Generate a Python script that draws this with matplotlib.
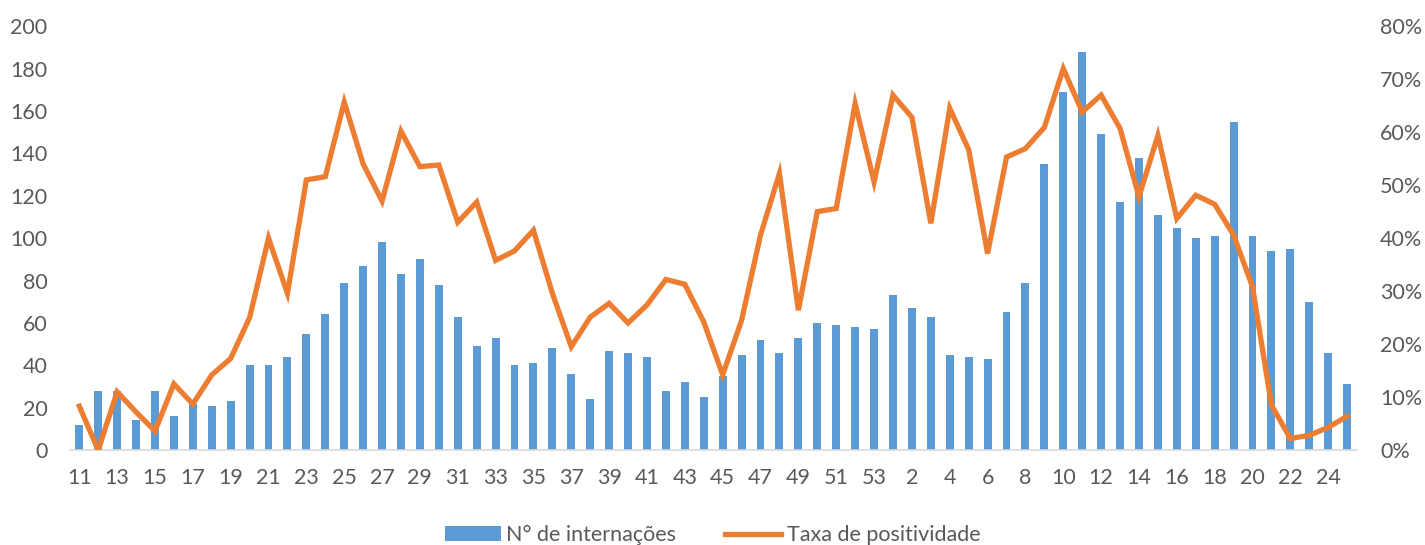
import numpy as np
import matplotlib
matplotlib.use("Agg")
import matplotlib.pyplot as plt
from matplotlib.ticker import FuncFormatter

# Epidemiological weeks (2020: 11-53, 2021: 1-25)
weeks = list(range(11, 54)) + list(range(1, 26))

# N° de internações
internacoes = [12, 28, 28, 14, 28, 16, 22, 21, 23, 40, 40, 44, 55, 64, 79, 87, 98, 83, 90, 78,
               63, 49, 53, 40, 41, 48, 36, 24, 47, 46, 44, 28, 32, 25, 35, 45, 52, 46, 53, 60,
               59, 58, 57, 73, 67, 63, 45, 44, 43, 65, 79, 135, 169, 188, 149, 117, 138, 111, 105, 100,
               101, 155, 101, 94, 95, 70, 46, 31]

# Taxa de positividade (%)
positividade = [8.3, 0.0, 11.0, 7.2, 3.6, 12.5, 8.7, 14.2, 17.3, 25.0, 40.0, 29.6, 51.0, 51.6, 65.7, 54.0,
                47.0, 60.2, 53.5, 53.8, 43.0, 46.8, 35.8, 37.6, 41.5, 29.6, 19.5, 25.1, 27.7, 24.0,
                27.4, 32.2, 31.3, 24.2, 14.2, 24.5, 40.6, 52.2, 26.4, 45.0, 45.6, 65.4, 50.6, 67.0,
                62.8, 42.8, 64.5, 56.7, 37.1, 55.3, 56.9, 60.9, 72.0, 63.8, 67.0, 60.7, 47.8, 59.4,
                43.7, 48.1, 46.4, 40.6, 30.8, 8.5, 2.2, 2.8, 4.3, 6.4]

BLUE = "#5B9BD5"
ORANGE = "#ED7D31"
TEXT = "#595959"

plt.rcParams['font.family'] = ['Lato', 'DejaVu Sans']

fig = plt.figure(figsize=(14.25, 5.45), dpi=100)
ax = fig.add_axes([0.049, 0.174, 0.903, 0.778])
ax2 = ax.twinx()

x = np.arange(len(weeks))
bars = ax.bar(x, internacoes, width=0.42, color=BLUE, label="N° de internações", zorder=2)
line, = ax2.plot(x, positividade, color=ORANGE, lw=3.8, solid_joinstyle='miter',
                 label="Taxa de positividade", zorder=3)

ax.set_xlim(-0.5, len(weeks) - 0.5)
ax.set_ylim(0, 200)
ax.set_yticks(range(0, 201, 20))
ax2.set_ylim(0, 80)
ax2.set_yticks(range(0, 81, 10))
ax2.yaxis.set_major_formatter(FuncFormatter(lambda v, p: f"{int(v)}%"))

ax.set_xticks(x[::2])
ax.set_xticklabels([str(w) for w in weeks[::2]])

for a in (ax, ax2):
    for s in a.spines.values():
        s.set_visible(False)
    a.tick_params(length=0, labelsize=15.5, colors=TEXT)
ax.spines['bottom'].set_visible(True)
ax.spines['bottom'].set_color("#D9D9D9")
ax.spines['bottom'].set_linewidth(1.2)
ax.tick_params(axis='y', pad=16)
ax.tick_params(axis='x', pad=13)
ax2.tick_params(axis='y', pad=17)

# bars behind line
ax.set_zorder(ax2.get_zorder() - 1)
ax2.patch.set_visible(False)

fig.legend(handles=[bars, line], labels=["N° de internações", "Taxa de positividade"],
           loc='lower center', bbox_to_anchor=(0.5, -0.036), ncol=2, frameon=False,
           fontsize=15.5, labelcolor=TEXT, handlelength=2.6, handletextpad=0.25,
           columnspacing=2.3)

fig.savefig("out.png", dpi=100)
